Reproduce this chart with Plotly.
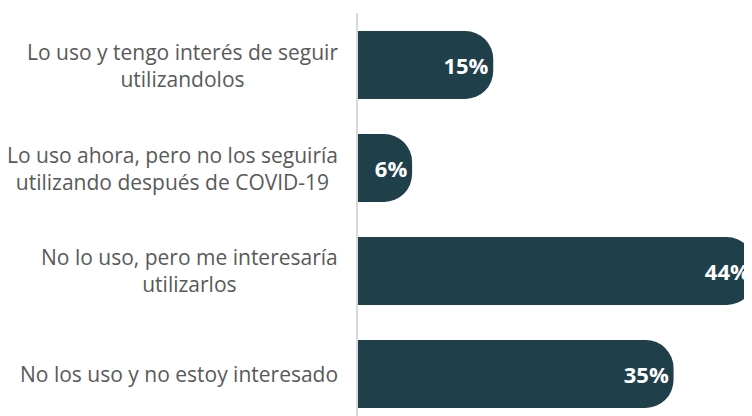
import plotly.graph_objects as go

categorias = [
    "Lo uso y tengo interés de seguir<br>utilizandolos",
    "Lo uso ahora, pero no los seguiría<br>utilizando después de COVID-19",
    "No lo uso, pero me interesaría<br>utilizarlos",
    "No los uso y no estoy interesado",
]
porcentajes = [15, 6, 44, 35]
etiquetas = ["15%", "6%", "44%", "35%"]

COLOR_BARRA = "#1f3f4b"
COLOR_TEXTO = "#595959"

# la página deja 8px de margen en el body: el lienzo se reduce para caber
fig = go.Figure(go.Bar(
    y=list(range(len(categorias))),
    x=porcentajes,
    orientation="h",
    width=0.66,
    marker=dict(color=COLOR_BARRA, cornerradius=28, line=dict(width=0)),
    text=etiquetas,
    textposition="inside",
    insidetextanchor="end",
    textfont=dict(family="Open Sans", size=22, color="white", weight="bold"),
    hoverinfo="skip",
))

# etiquetas de categoría centradas, a la izquierda del eje
for i, cat in enumerate(categorias):
    fig.add_annotation(
        x=0, xref="paper", y=i, yref="y",
        text=cat, showarrow=False,
        xanchor="right", yanchor="middle", align="center",
        xshift=-18,
        font=dict(family="Open Sans", size=21, color=COLOR_TEXTO),
    )

fig.update_layout(
    width=744, height=408,
    margin=dict(l=350, r=0, t=5, b=0),
    paper_bgcolor="white", plot_bgcolor="white",
    showlegend=False,
    xaxis=dict(range=[0, 43.7], visible=False, fixedrange=True),
    yaxis=dict(
        range=[3.408, -0.505],
        showticklabels=False, showgrid=False, zeroline=False,
        showline=True, linecolor="#d9d9d9", linewidth=2,
        ticks="",
    ),
)

fig.write_html("out.html")
